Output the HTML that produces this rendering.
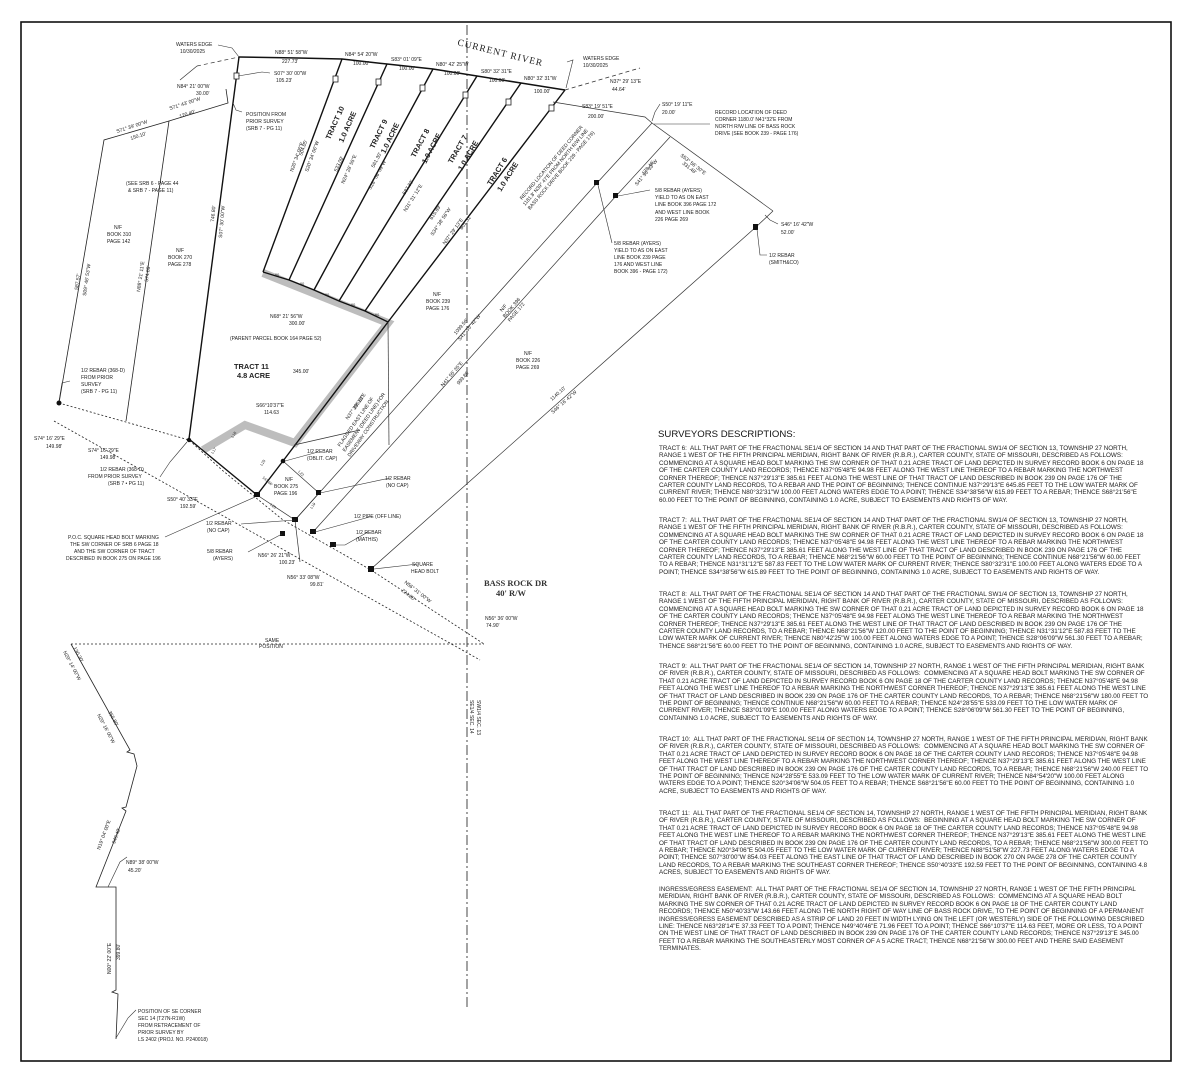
<!DOCTYPE html>
<html><head><meta charset="utf-8">
<style>
html,body{margin:0;padding:0;background:#fff;}
body{width:1177px;height:1080px;position:relative;overflow:hidden;font-family:"Liberation Sans",sans-serif;}
svg{position:absolute;left:0;top:0;}
.p{position:absolute;left:659px;font-size:6.3px;line-height:7.4px;color:#222;white-space:nowrap;}
.h{position:absolute;left:658px;top:429px;font-size:9.6px;color:#111;white-space:nowrap;}
</style></head><body>
<svg width="1177" height="1080" viewBox="0 0 1177 1080" font-family="Liberation Sans, sans-serif" fill="#222">
<rect x="21" y="22" width="1150" height="1039" fill="none" stroke="#111" stroke-width="1.6"/>
<line x1="467" y1="25" x2="467" y2="1010" stroke="#333" stroke-width="0.9" stroke-dasharray="10,3,2,3"/>
<text font-size="5" transform="rotate(90 470 700)" x="470" y="700">SE1/4 SEC. 14</text>
<text font-size="5" transform="rotate(90 477 700)" x="477" y="700">SW1/4 SEC. 13</text>
<polyline points="203,450 245,425 295,443 388,323 263,273" fill="none" stroke="#bdbdbd" stroke-width="8" stroke-linejoin="miter"/>
<polyline points="239,57 298,58 342,59 387,64 433,69 477,76 521,83 565,90" fill="none" stroke="#111" stroke-width="1.5"/>
<line x1="565" y1="90" x2="640" y2="68" stroke="#333" stroke-width="0.8" stroke-dasharray="4,3"/>
<line x1="197" y1="66" x2="239" y2="57" stroke="#333" stroke-width="0.7" stroke-dasharray="4,3"/>
<line x1="180" y1="80" x2="197" y2="66" stroke="#333" stroke-width="0.7"/>
<g stroke="#111" stroke-width="1.4" fill="none">
<line x1="263" y1="272" x2="342" y2="59"/>
<line x1="289" y1="280" x2="387" y2="64"/>
<line x1="314" y1="290" x2="433" y2="69"/>
<line x1="339" y1="301" x2="477" y2="76"/>
<line x1="365" y1="311" x2="521" y2="83"/>
<line x1="388" y1="322" x2="565" y2="90"/>
<polyline points="263,272 289,280 314,290 339,301 365,311 388,322"/>
<polyline points="239,57 189,439 257,495 283,461 388,322"/>
</g>
<g fill="#fff" stroke="#222" stroke-width="0.8">
<rect x="234" y="73" width="5" height="6"/><rect x="333" y="76" width="5" height="6"/><rect x="376" y="79" width="5" height="6"/>
<rect x="420" y="85" width="5" height="6"/><rect x="463" y="92" width="5" height="6"/><rect x="506" y="99" width="5" height="6"/><rect x="549" y="105" width="5" height="6"/>
</g>
<g stroke="#222" stroke-width="0.8" fill="none">
<polyline points="226,89 228,103 169,121 104,140 59,403"/>
<line x1="169" y1="121" x2="126" y2="421"/>
</g>
<g stroke="#222" stroke-width="0.8" stroke-dasharray="2,2" fill="none">
<polyline points="59,403 189,440 222,470 283,520 371,570 484,644"/>
<line x1="54" y1="421" x2="480" y2="660"/>
<line x1="71" y1="644" x2="484" y2="644"/>
</g>
<g stroke="#333" stroke-width="0.7" fill="none">
<polyline points="257,495 295,520 319,493 283,461"/>
<line x1="295" y1="520" x2="300" y2="562"/>
<line x1="295" y1="520" x2="597" y2="183"/>
<line x1="597" y1="183" x2="652" y2="123"/>
<line x1="313" y1="532" x2="616" y2="196"/>
<line x1="616" y1="196" x2="670" y2="137"/>
<line x1="371" y1="569" x2="756" y2="227"/>
<line x1="756" y1="227" x2="773" y2="211"/>
<line x1="652" y1="123" x2="773" y2="211"/>
<polyline points="553,102 645,117 652,123"/>
<line x1="388" y1="322" x2="389" y2="445"/>
<line x1="294" y1="445" x2="360" y2="430"/>
</g>
<polyline points="71,644 130,750 127,752 134,754 137,766 126,807 122,808 126,811 96,887 116,887 116,990 112,992 118,994 116,1039" fill="none" stroke="#222" stroke-width="0.8"/>
<g fill="#111">
<circle cx="59" cy="403" r="2.5"/><circle cx="189" cy="440" r="2.2"/>
<rect x="254" y="492" width="6" height="5"/><circle cx="283" cy="461" r="2.3"/><rect x="316" y="490" width="5" height="5"/>
<rect x="292" y="517" width="6" height="5"/><rect x="310" y="529" width="6" height="5"/><rect x="280" y="531" width="5" height="5"/>
<rect x="330" y="542" width="6" height="5"/><rect x="368" y="566" width="6" height="6"/>
<rect x="594" y="180" width="5" height="5"/><rect x="613" y="193" width="5" height="5"/><rect x="753" y="224" width="5" height="6"/>
</g>
<g stroke="#333" stroke-width="0.6" fill="none">
<polyline points="218,45 232,48 239,57"/><polyline points="567,62 573,60 566,88"/>
<polyline points="242,112 236,110 233,103"/><polyline points="270,73 262,72 238,76"/>
<polyline points="70,381 62,383 59,401"/><polyline points="160,477 170,462 187,442"/>
<polyline points="165,537 255,497"/><polyline points="241,524 295,520"/><polyline points="248,552 282,534"/>
<polyline points="318,452 285,461"/><polyline points="390,478 320,493"/><polyline points="373,516 315,532"/>
<polyline points="368,532 345,545 334,545"/><polyline points="418,564 374,569"/>
<polyline points="650,190 618,196"/><polyline points="612,243 598,185"/><polyline points="710,124 654,124"/>
<polyline points="660,104 655,112 652,121"/><polyline points="767,255 760,255 757,229"/><polyline points="778,224 770,220 765,215"/>
<polyline points="136,1010 128,1018 116,1038"/><polyline points="127,857 120,862 108,887"/>
</g>
<text x="457" y="45" font-family="Liberation Serif, serif" font-size="9.5" letter-spacing="1" transform="rotate(14 457 45)">CURRENT RIVER</text>
<text x="484" y="586" font-family="Liberation Serif, serif" font-size="8.5" font-weight="bold" fill="#333">BASS ROCK DR</text>
<text x="496" y="596" font-family="Liberation Serif, serif" font-size="8.5" font-weight="bold" fill="#333">40' R/W</text>
<g font-size="5">
<text x="176" y="46">WATERS EDGE</text><text x="180" y="53">10/30/2025</text>
<text x="275" y="54">N88° 51' 58"W</text><text x="282" y="63">227.73'</text>
<text x="345" y="56">N84° 54' 20"W</text><text x="353" y="65">100.00'</text>
<text x="391" y="61">S83° 01' 09"E</text><text x="399" y="70">100.00'</text>
<text x="436" y="66">N80° 42' 25"W</text><text x="444" y="75">100.00'</text>
<text x="481" y="73">S80° 32' 31"E</text><text x="489" y="82">100.00'</text>
<text x="524" y="80">N80° 32' 31"W</text><text x="534" y="93">100.00'</text>
<text x="583" y="60">WATERS EDGE</text><text x="583" y="67">10/30/2025</text>
<text x="610" y="83">N37° 29' 13"E</text><text x="612" y="91">44.64'</text>
<text x="582" y="108">S83° 19' 51"E</text><text x="588" y="118">200.00'</text>
<text x="662" y="106">S50° 19' 11"E</text><text x="662" y="114">20.00'</text>
<text x="715" y="114">RECORD LOCATION OF DEED</text><text x="715" y="121">CORNER 1180.0' N41°32'E FROM</text><text x="715" y="128">NORTH R/W LINE OF BASS ROCK</text><text x="715" y="135">DRIVE (SEE BOOK 239 - PAGE 176)</text>
<text x="655" y="192">5/8 REBAR (AYERS)</text><text x="655" y="199">YIELD TO AS ON EAST</text><text x="655" y="206">LINE BOOK 396 PAGE 172</text><text x="655" y="214">AND WEST LINE BOOK</text><text x="655" y="221">226 PAGE 269</text>
<text x="614" y="245">5/8 REBAR (AYERS)</text><text x="614" y="252">YIELD TO AS ON EAST</text><text x="614" y="259">LINE BOOK 239 PAGE</text><text x="614" y="266">176 AND WEST LINE</text><text x="614" y="273">BOOK 396 - PAGE 172)</text>
<text x="781" y="226">S46° 16' 42"W</text><text x="781" y="234">52.00'</text>
<text x="769" y="257">1/2 REBAR</text><text x="769" y="264">(SMITH&amp;CO)</text>
<text x="274" y="75">S07° 30' 00"W</text><text x="276" y="82">105.23'</text>
<text x="177" y="88">N84° 21' 00"W</text><text x="196" y="95">30.00'</text>
<text x="246" y="116">POSITION FROM</text><text x="246" y="123">PRIOR SURVEY</text><text x="246" y="130">(SRB 7 - PG 11)</text>
<text x="170" y="110" transform="rotate(-18 170 110)">S71° 43' 00"W</text><text x="180" y="118" transform="rotate(-18 180 118)">120.40'</text>
<text x="117" y="133" transform="rotate(-18 117 133)">S71° 39' 00"W</text><text x="131" y="140" transform="rotate(-18 131 140)">150.10'</text>
<text x="126" y="185">(SEE SRB 6 - PAGE 44</text><text x="128" y="192">&amp; SRB 7 - PAGE 11)</text>
<text x="114" y="229">N/F</text><text x="107" y="236">BOOK 310</text><text x="107" y="243">PAGE 142</text>
<text x="176" y="252">N/F</text><text x="168" y="259">BOOK 270</text><text x="168" y="266">PAGE 278</text>
<text x="78" y="290" transform="rotate(-82 78 290)">587.57'</text><text x="86" y="296" transform="rotate(-82 86 296)">S09° 46' 53"W</text>
<text x="140" y="292" transform="rotate(-82 140 292)">N88° 21' 11"E</text><text x="148" y="282" transform="rotate(-82 148 282)">574.08'</text>
<text x="214" y="222" transform="rotate(-85 214 222)">746.80'</text><text x="222" y="238" transform="rotate(-85 222 238)">S07° 30' 00"W</text>
<text x="270" y="318">N68° 21' 56"W</text><text x="289" y="325">300.00'</text>
<text x="230" y="340">(PARENT PARCEL BOOK 164 PAGE 52)</text>
<text x="293" y="373">345.00'</text>
<text x="256" y="407">S66°10'37"E</text><text x="264" y="414">114.63</text>
<text x="81" y="372">1/2 REBAR (368-D)</text><text x="81" y="379">FROM PRIOR</text><text x="81" y="386">SURVEY</text><text x="81" y="393">(SRB 7 - PG 11)</text>
<text x="34" y="440">S74° 16' 29"E</text><text x="46" y="448">149.98'</text>
<text x="88" y="452">S74° 16' 29"E</text><text x="100" y="459">149.98'</text>
<text x="100" y="471">1/2 REBAR (368-D)</text><text x="88" y="478">FROM PRIOR SURVEY</text><text x="108" y="485">(SRB 7 • PG 11)</text>
<text x="167" y="501">S50° 40' 33"E</text><text x="180" y="508">192.59'</text>
<text x="68" y="539">P.O.C. SQUARE HEAD BOLT MARKING</text><text x="70" y="546">THE SW CORNER OF SRB 6 PAGE 18</text><text x="74" y="553">AND THE SW CORNER OF TRACT</text><text x="66" y="560">DESCRIBED IN BOOK 275 ON PAGE 196</text>
<text x="206" y="525">1/2 REBAR</text><text x="207" y="532">(NO CAP)</text>
<text x="207" y="553">5/8 REBAR</text><text x="213" y="560">(AYERS)</text>
<text x="258" y="557">N56° 26' 21"W</text><text x="279" y="564">100.23'</text>
<text x="287" y="579">N56° 33' 08"W</text><text x="310" y="586">99.81'</text>
<text x="307" y="453">1/2 REBAR</text><text x="307" y="460">(OBLIT. CAP)</text>
<text x="285" y="481">N/F</text><text x="274" y="488">BOOK 275</text><text x="274" y="495">PAGE 196</text>
<text x="385" y="480">1/2 REBAR</text><text x="386" y="487">(NO CAP)</text>
<text x="354" y="518">1/2 PIPE (OFF LINE)</text>
<text x="356" y="534">1/2 REBAR</text><text x="356" y="541">(MATHIS)</text>
<text x="412" y="566">SQUARE</text><text x="411" y="573">HEAD BOLT</text>
<text x="404" y="583" transform="rotate(38 404 583)">N56° 31' 00"W</text><text x="401" y="591" transform="rotate(38 401 591)">224.80'</text>
<text x="485" y="620">N56° 36' 00"W</text><text x="486" y="627">74.90'</text>
<text x="265" y="642">SAME</text><text x="259" y="648">POSITION</text>
<text x="433" y="296">N/F</text><text x="426" y="303">BOOK 239</text><text x="426" y="310">PAGE 176</text>
<text x="524" y="355">N/F</text><text x="516" y="362">BOOK 226</text><text x="516" y="369">PAGE 269</text>
<text x="126" y="864">N89° 38' 00"W</text><text x="128" y="872">45.20'</text>
<text x="138" y="1013">POSITION OF SE CORNER</text><text x="138" y="1020">SEC 14 (T27N-R1W)</text><text x="138" y="1027">FROM RETRACEMENT OF</text><text x="138" y="1034">PRIOR SURVEY BY</text><text x="138" y="1041">LS 2402 (PROJ. NO. P240018)</text>
<text x="63" y="652" transform="rotate(62 63 652)">N29° 14' 00"W</text><text x="73" y="648" transform="rotate(62 73 648)">130.30'</text>
<text x="97" y="715" transform="rotate(62 97 715)">N29° 16' 00"W</text><text x="108" y="712" transform="rotate(62 108 712)">355.80'</text>
<text x="100" y="850" transform="rotate(-70 100 850)">N19° 04' 00"E</text><text x="115" y="844" transform="rotate(-70 115 844)">949.40'</text>
<text x="111" y="974" transform="rotate(-90 111 974)">N00° 22' 00"E</text><text x="120" y="960" transform="rotate(-90 120 960)">399.80'</text>
<text x="293" y="172" transform="rotate(-70 293 172)">N20° 34' 06"E</text><text x="302" y="156" transform="rotate(-70 302 156)">504.05'</text><text x="308" y="172" transform="rotate(-70 308 172)">S20° 34' 06"W</text>
<text x="337" y="172" transform="rotate(-66 337 172)">533.09'</text><text x="344" y="184" transform="rotate(-66 344 184)">N24° 28' 55"E</text>
<text x="374" y="168" transform="rotate(-62 374 168)">561.30'</text><text x="371" y="190" transform="rotate(-62 371 190)">S28° 06' 09"W</text>
<text x="405" y="195" transform="rotate(-58 405 195)">587.83'</text><text x="406" y="212" transform="rotate(-58 406 212)">N31° 31' 12"E</text>
<text x="432" y="220" transform="rotate(-56 432 220)">615.89'</text><text x="433" y="236" transform="rotate(-56 433 236)">S34° 38' 56"W</text>
<text x="445" y="245" transform="rotate(-54 445 245)">N37° 29' 13"E</text><text x="462" y="230" transform="rotate(-54 462 230)">601.31'</text>
<text x="355" y="410" transform="rotate(-55 355 410)">385.61'</text><text x="348" y="420" transform="rotate(-55 348 420)">N37° 29' 13"E</text>
<text x="340" y="447" transform="rotate(-55 340 447)">FLAGGED EAST LINE OF</text><text x="345" y="452" transform="rotate(-55 345 452)">EASEMENT (DEED LINE) FOR</text><text x="350" y="457" transform="rotate(-55 350 457)">DRIVEWAY CONSTRUCTION</text>
<text x="456" y="335" transform="rotate(-50 456 335)">1099.56'</text><text x="460" y="341" transform="rotate(-50 460 341)">S41° 55' 42"W</text>
<text x="443" y="387" transform="rotate(-50 443 387)">N41° 55' 35"E</text><text x="459" y="385" transform="rotate(-50 459 385)">999.86'</text>
<text x="552" y="401" transform="rotate(-42 552 401)">1140.10'</text><text x="553" y="414" transform="rotate(-42 553 414)">S46° 16' 42"W</text>
<text x="502" y="312" transform="rotate(-50 502 312)">N/F</text><text x="505" y="318" transform="rotate(-50 505 318)">BOOK 396</text><text x="510" y="322" transform="rotate(-50 510 322)">PAGE 172</text>
<text x="522" y="200" transform="rotate(-50 522 200)">RECORD LOCATION OF DEED CORNER</text><text x="525" y="206" transform="rotate(-50 525 206)">1181.8' N39° 47'E FROM NORTH R/W LINE</text><text x="530" y="210" transform="rotate(-50 530 210)">BASS ROCK DRIVE BOOK 239 - PAGE 176)</text>
<text x="644" y="175" transform="rotate(-50 644 175)">178.46'</text><text x="637" y="186" transform="rotate(-50 637 186)">S41° 55' 33"W</text>
<text x="680" y="156" transform="rotate(38 680 156)">S53° 56' 30"E</text><text x="682" y="164" transform="rotate(38 682 164)">331.48'</text>
</g>
<g font-size="3.8">
<text x="275" y="276">60</text><text x="300" y="285">60</text><text x="325" y="296">60</text><text x="351" y="306">60</text><text x="375" y="316">60</text>
<text x="233" y="438" transform="rotate(-55 233 438)">L18</text><text x="213" y="454" transform="rotate(-55 213 454)">L17</text>
<text x="262" y="466" transform="rotate(-55 262 466)">L25</text><text x="262" y="478" transform="rotate(40 262 478)">143.66'</text>
<text x="298" y="472" transform="rotate(45 298 472)">L22</text><text x="270" y="505" transform="rotate(40 270 505)">L20</text><text x="312" y="509" transform="rotate(-55 312 509)">L19</text>
</g>
<g font-size="7.4" font-weight="bold">
<text x="330" y="140" transform="rotate(-66 330 140)">TRACT 10</text><text x="343" y="143" transform="rotate(-66 343 143)">1.0 ACRE</text>
<text x="374" y="149" transform="rotate(-64 374 149)">TRACT 9</text><text x="385" y="154" transform="rotate(-64 385 154)">1.0 ACRE</text>
<text x="415" y="158" transform="rotate(-62 415 158)">TRACT 8</text><text x="426" y="164" transform="rotate(-62 426 164)">1.0 ACRE</text>
<text x="452" y="164" transform="rotate(-60 452 164)">TRACT 7</text><text x="462" y="171" transform="rotate(-60 462 171)">1.0 ACRE</text>
<text x="491" y="186" transform="rotate(-58 491 186)">TRACT 6</text><text x="501" y="192" transform="rotate(-58 501 192)">1.0 ACRE</text>
<text x="234" y="369">TRACT 11</text><text x="237" y="378">4.8 ACRE</text>
</g>
</svg>
<div class="h">SURVEYORS DESCRIPTIONS:</div>
<div class="p" style="top:445px">TRACT 6:&nbsp; ALL THAT PART OF THE FRACTIONAL SE1/4 OF SECTION 14 AND THAT PART OF THE FRACTIONAL SW1/4 OF SECTION 13, TOWNSHIP 27 NORTH,<br>RANGE 1 WEST OF THE FIFTH PRINCIPAL MERIDIAN, RIGHT BANK OF RIVER (R.B.R.), CARTER COUNTY, STATE OF MISSOURI, DESCRIBED AS FOLLOWS:<br>COMMENCING AT A SQUARE HEAD BOLT MARKING THE SW CORNER OF THAT 0.21 ACRE TRACT OF LAND DEPICTED IN SURVEY RECORD BOOK 6 ON PAGE 18<br>OF THE CARTER COUNTY LAND RECORDS; THENCE N37°05'48"E 94.98 FEET ALONG THE WEST LINE THEREOF TO A REBAR MARKING THE NORTHWEST<br>CORNER THEREOF; THENCE N37°29'13"E 385.61 FEET ALONG THE WEST LINE OF THAT TRACT OF LAND DESCRIBED IN BOOK 239 ON PAGE 176 OF THE<br>CARTER COUNTY LAND RECORDS, TO A REBAR AND THE POINT OF BEGINNING; THENCE CONTINUE N37°29'13"E 645.85 FEET TO THE LOW WATER MARK OF<br>CURRENT RIVER; THENCE N80°32'31"W 100.00 FEET ALONG WATERS EDGE TO A POINT; THENCE S34°38'56"W 615.89 FEET TO A REBAR; THENCE S68°21'56"E<br>60.00 FEET TO THE POINT OF BEGINNING, CONTAINING 1.0 ACRE, SUBJECT TO EASEMENTS AND RIGHTS OF WAY.</div>
<div class="p" style="top:517px">TRACT 7:&nbsp; ALL THAT PART OF THE FRACTIONAL SE1/4 OF SECTION 14 AND THAT PART OF THE FRACTIONAL SW1/4 OF SECTION 13, TOWNSHIP 27 NORTH,<br>RANGE 1 WEST OF THE FIFTH PRINCIPAL MERIDIAN, RIGHT BANK OF RIVER (R.B.R.), CARTER COUNTY, STATE OF MISSOURI, DESCRIBED AS FOLLOWS:<br>COMMENCING AT A SQUARE HEAD BOLT MARKING THE SW CORNER OF THAT 0.21 ACRE TRACT OF LAND DEPICTED IN SURVEY RECORD BOOK 6 ON PAGE 18<br>OF THE CARTER COUNTY LAND RECORDS; THENCE N37°05'48"E 94.98 FEET ALONG THE WEST LINE THEREOF TO A REBAR MARKING THE NORTHWEST<br>CORNER THEREOF; THENCE N37°29'13"E 385.61 FEET ALONG THE WEST LINE OF THAT TRACT OF LAND DESCRIBED IN BOOK 239 ON PAGE 176 OF THE<br>CARTER COUNTY LAND RECORDS, TO A REBAR; THENCE N68°21'56"W 60.00 FEET TO THE POINT OF BEGINNING; THENCE CONTINUE N68°21'56"W 60.00 FEET<br>TO A REBAR; THENCE N31°31'12"E 587.83 FEET TO THE LOW WATER MARK OF CURRENT RIVER; THENCE S80°32'31"E 100.00 FEET ALONG WATERS EDGE TO A<br>POINT; THENCE S34°38'56"W 615.89 FEET TO THE POINT OF BEGINNING, CONTAINING 1.0 ACRE, SUBJECT TO EASEMENTS AND RIGHTS OF WAY.</div>
<div class="p" style="top:591px">TRACT 8:&nbsp; ALL THAT PART OF THE FRACTIONAL SE1/4 OF SECTION 14 AND THAT PART OF THE FRACTIONAL SW1/4 OF SECTION 13, TOWNSHIP 27 NORTH,<br>RANGE 1 WEST OF THE FIFTH PRINCIPAL MERIDIAN, RIGHT BANK OF RIVER (R.B.R.), CARTER COUNTY, STATE OF MISSOURI, DESCRIBED AS FOLLOWS:<br>COMMENCING AT A SQUARE HEAD BOLT MARKING THE SW CORNER OF THAT 0.21 ACRE TRACT OF LAND DEPICTED IN SURVEY RECORD BOOK 6 ON PAGE 18<br>OF THE CARTER COUNTY LAND RECORDS; THENCE N37°05'48"E 94.98 FEET ALONG THE WEST LINE THEREOF TO A REBAR MARKING THE NORTHWEST<br>CORNER THEREOF; THENCE N37°29'13"E 385.61 FEET ALONG THE WEST LINE OF THAT TRACT OF LAND DESCRIBED IN BOOK 239 ON PAGE 176 OF THE<br>CARTER COUNTY LAND RECORDS, TO A REBAR; THENCE N68°21'56"W 120.00 FEET TO THE POINT OF BEGINNING; THENCE N31°31'12"E 587.83 FEET TO THE<br>LOW WATER MARK OF CURRENT RIVER; THENCE N80°42'25"W 100.00 FEET ALONG WATERS EDGE TO A POINT; THENCE S28°06'09"W 561.30 FEET TO A REBAR;<br>THENCE S68°21'56"E 60.00 FEET TO THE POINT OF BEGINNING, CONTAINING 1.0 ACRE, SUBJECT TO EASEMENTS AND RIGHTS OF WAY.</div>
<div class="p" style="top:663px">TRACT 9:&nbsp; ALL THAT PART OF THE FRACTIONAL SE1/4 OF SECTION 14, TOWNSHIP 27 NORTH, RANGE 1 WEST OF THE FIFTH PRINCIPAL MERIDIAN, RIGHT BANK<br>OF RIVER (R.B.R.), CARTER COUNTY, STATE OF MISSOURI, DESCRIBED AS FOLLOWS:&nbsp; COMMENCING AT A SQUARE HEAD BOLT MARKING THE SW CORNER OF<br>THAT 0.21 ACRE TRACT OF LAND DEPICTED IN SURVEY RECORD BOOK 6 ON PAGE 18 OF THE CARTER COUNTY LAND RECORDS; THENCE N37°05'48"E 94.98<br>FEET ALONG THE WEST LINE THEREOF TO A REBAR MARKING THE NORTHWEST CORNER THEREOF; THENCE N37°29'13"E 385.61 FEET ALONG THE WEST LINE<br>OF THAT TRACT OF LAND DESCRIBED IN BOOK 239 ON PAGE 176 OF THE CARTER COUNTY LAND RECORDS, TO A REBAR; THENCE N68°21'56"W 180.00 FEET TO<br>THE POINT OF BEGINNING; THENCE CONTINUE N68°21'56"W 60.00 FEET TO A REBAR; THENCE N24°28'55"E 533.09 FEET TO THE LOW WATER MARK OF<br>CURRENT RIVER; THENCE S83°01'09"E 100.00 FEET ALONG WATERS EDGE TO A POINT; THENCE S28°06'09"W 561.30 FEET TO THE POINT OF BEGINNING,<br>CONTAINING 1.0 ACRE, SUBJECT TO EASEMENTS AND RIGHTS OF WAY.</div>
<div class="p" style="top:736px">TRACT 10:&nbsp; ALL THAT PART OF THE FRACTIONAL SE1/4 OF SECTION 14, TOWNSHIP 27 NORTH, RANGE 1 WEST OF THE FIFTH PRINCIPAL MERIDIAN, RIGHT BANK<br>OF RIVER (R.B.R.), CARTER COUNTY, STATE OF MISSOURI, DESCRIBED AS FOLLOWS:&nbsp; COMMENCING AT A SQUARE HEAD BOLT MARKING THE SW CORNER OF<br>THAT 0.21 ACRE TRACT OF LAND DEPICTED IN SURVEY RECORD BOOK 6 ON PAGE 18 OF THE CARTER COUNTY LAND RECORDS; THENCE N37°05'48"E 94.98<br>FEET ALONG THE WEST LINE THEREOF TO A REBAR MARKING THE NORTHWEST CORNER THEREOF; THENCE N37°29'13"E 385.61 FEET ALONG THE WEST LINE<br>OF THAT TRACT OF LAND DESCRIBED IN BOOK 239 ON PAGE 176 OF THE CARTER COUNTY LAND RECORDS, TO A REBAR; THENCE N68°21'56"W 240.00 FEET TO<br>THE POINT OF BEGINNING; THENCE N24°28'55"E 533.09 FEET TO THE LOW WATER MARK OF CURRENT RIVER; THENCE N84°54'20"W 100.00 FEET ALONG<br>WATERS EDGE TO A POINT; THENCE S20°34'06"W 504.05 FEET TO A REBAR; THENCE S68°21'56"E 60.00 FEET TO THE POINT OF BEGINNING, CONTAINING 1.0<br>ACRE, SUBJECT TO EASEMENTS AND RIGHTS OF WAY.</div>
<div class="p" style="top:810px">TRACT 11:&nbsp; ALL THAT PART OF THE FRACTIONAL SE1/4 OF SECTION 14, TOWNSHIP 27 NORTH, RANGE 1 WEST OF THE FIFTH PRINCIPAL MERIDIAN, RIGHT BANK<br>OF RIVER (R.B.R.), CARTER COUNTY, STATE OF MISSOURI, DESCRIBED AS FOLLOWS:&nbsp; BEGINNING AT A SQUARE HEAD BOLT MARKING THE SW CORNER OF<br>THAT 0.21 ACRE TRACT OF LAND DEPICTED IN SURVEY RECORD BOOK 6 ON PAGE 18 OF THE CARTER COUNTY LAND RECORDS; THENCE N37°05'48"E 94.98<br>FEET ALONG THE WEST LINE THEREOF TO A REBAR MARKING THE NORTHWEST CORNER THEREOF; THENCE N37°29'13"E 385.61 FEET ALONG THE WEST LINE<br>OF THAT TRACT OF LAND DESCRIBED IN BOOK 239 ON PAGE 176 OF THE CARTER COUNTY LAND RECORDS, TO A REBAR; THENCE N68°21'56"W 300.00 FEET TO<br>A REBAR; THENCE N20°34'06"E 504.05 FEET TO THE LOW WATER MARK OF CURRENT RIVER; THENCE N88°51'58"W 227.73 FEET ALONG WATERS EDGE TO A<br>POINT; THENCE S07°30'00"W 854.03 FEET ALONG THE EAST LINE OF THAT TRACT OF LAND DESCRIBED IN BOOK 270 ON PAGE 278 OF THE CARTER COUNTY<br>LAND RECORDS, TO A REBAR MARKING THE SOUTHEAST CORNER THEREOF; THENCE S50°40'33"E 192.59 FEET TO THE POINT OF BEGINNING, CONTAINING 4.8<br>ACRES, SUBJECT TO EASEMENTS AND RIGHTS OF WAY.</div>
<div class="p" style="top:886px">INGRESS/EGRESS EASEMENT:&nbsp; ALL THAT PART OF THE FRACTIONAL SE1/4 OF SECTION 14, TOWNSHIP 27 NORTH, RANGE 1 WEST OF THE FIFTH PRINCIPAL<br>MERIDIAN, RIGHT BANK OF RIVER (R.B.R.), CARTER COUNTY, STATE OF MISSOURI, DESCRIBED AS FOLLOWS:&nbsp; COMMENCING AT A SQUARE HEAD BOLT<br>MARKING THE SW CORNER OF THAT 0.21 ACRE TRACT OF LAND DEPICTED IN SURVEY RECORD BOOK 6 ON PAGE 18 OF THE CARTER COUNTY LAND<br>RECORDS; THENCE N50°40'33"W 143.66 FEET ALONG THE NORTH RIGHT OF WAY LINE OF BASS ROCK DRIVE, TO THE POINT OF BEGINNING OF A PERMANENT<br>INGRESS/EGRESS EASEMENT DESCRIBED AS A STRIP OF LAND 20 FEET IN WIDTH LYING ON THE LEFT (OR WESTERLY) SIDE OF THE FOLLOWING DESCRIBED<br>LINE: THENCE N63°28'14"E 37.33 FEET TO A POINT; THENCE N49°40'46"E 71.96 FEET TO A POINT; THENCE S66°10'37"E 114.63 FEET, MORE OR LESS, TO A POINT<br>ON THE WEST LINE OF THAT TRACT OF LAND DESCRIBED IN BOOK 239 ON PAGE 176 OF THE CARTER COUNTY LAND RECORDS; THENCE N37°29'13"E 345.00<br>FEET TO A REBAR MARKING THE SOUTHEASTERLY MOST CORNER OF A 5 ACRE TRACT; THENCE N68°21'56"W 300.00 FEET AND THERE SAID EASEMENT<br>TERMINATES.</div>
</body></html>
